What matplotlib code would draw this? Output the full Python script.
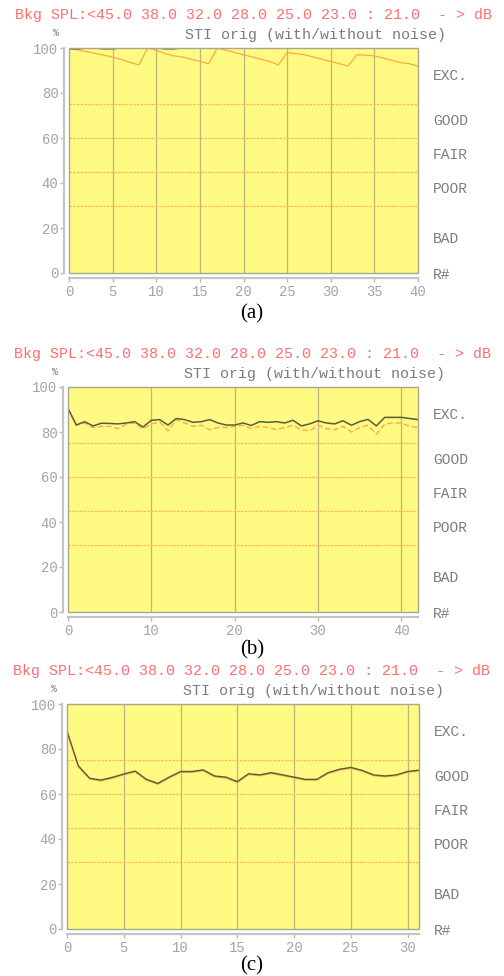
import matplotlib
matplotlib.use("Agg")
import matplotlib.pyplot as plt
from matplotlib.patches import Rectangle

# ---- data -------------------------------------------------------------
header_text = "Bkg SPL:<45.0 38.0 32.0 28.0 25.0 23.0 : 21.0  - > dB"
plot_title = "STI orig (with/without noise)"
grade_labels = ["EXC.", "GOOD", "FAIR", "POOR", "BAD", "R#"]
grade_label_levels = [87.5, 67.5, 52.5, 37.5, 15, -1]
grade_bounds = [75, 60, 45, 30]
y_ticks = [0, 20, 40, 60, 80, 100]

# (a)
a_x_ticks = [0, 5, 10, 15, 20, 25, 30, 35, 40]
a_xmax = 40
a_without = [99.6, 99.6, 100, 100, 99.6, 99.6, 100, 100, 100, 100,
             100, 99.6, 99.6, 100, 100, 100, 100, 100, 100, 100,
             100, 100, 100, 100, 100, 100, 100, 100, 100, 100,
             100, 100, 100, 100, 100, 100, 100, 100, 100, 100, 100]
a_with = [100, 99.2, 98.4, 97.6, 96.8, 96.0, 94.8, 93.6, 92.5, 100,
          99.0, 97.5, 96.5, 96.0, 95.0, 94.0, 93.0, 100, 99.0, 98.0,
          97.0, 96.0, 95.0, 94.0, 92.5, 98.0, 97.5, 97.0, 96.0, 95.0,
          94.0, 93.0, 92.0, 97.0, 96.8, 96.5, 95.5, 94.5, 93.5, 93.0, 92.0]

# (b)
b_x_ticks = [0, 10, 20, 30, 40]
b_xmax = 42
b_without = [90.5, 83.1, 84.6, 82.7, 83.9, 83.8, 83.6, 84.0, 84.6, 82.2,
             85.2, 85.5, 83.1, 86.0, 85.5, 84.3, 84.6, 85.5, 84.0, 83.1,
             83.1, 84.0, 82.9, 84.6, 84.3, 84.6, 84.0, 85.2, 82.7, 83.6,
             85.0, 84.0, 83.6, 85.0, 83.0, 84.6, 85.6, 82.7, 86.5, 86.5,
             86.5, 86.0, 85.5]
b_with = [90.5, 83.0, 84.0, 82.0, 82.5, 82.5, 81.5, 83.5, 84.0, 81.5,
          83.5, 84.5, 80.5, 85.5, 84.0, 82.5, 83.0, 81.0, 82.0, 82.0,
          82.5, 83.0, 81.5, 82.5, 82.0, 81.0, 82.0, 83.0, 81.0, 80.5,
          83.0, 81.5, 81.0, 82.5, 80.0, 82.0, 83.0, 79.0, 83.5, 84.0,
          84.0, 82.5, 82.0]

# (c)
c_x_ticks = [0, 5, 10, 15, 20, 25, 30]
c_xmax = 31
c_without = [88.0, 72.5, 67.0, 66.2, 67.4, 68.9, 70.2, 66.5, 64.7, 67.5,
             70.0, 70.0, 70.7, 68.0, 67.5, 65.5, 69.0, 68.5, 69.5, 68.5,
             67.5, 66.5, 66.5, 69.5, 71.0, 71.8, 70.5, 68.5, 68.0, 68.5,
             70.0, 70.6]
c_with = [87.6, 72.0, 66.6, 65.8, 67.0, 68.5, 69.8, 66.1, 64.3, 67.1,
          69.6, 69.6, 70.3, 67.6, 67.1, 65.1, 68.6, 68.1, 69.1, 68.1,
          67.1, 66.1, 66.1, 69.1, 70.6, 71.4, 70.1, 68.1, 67.6, 68.1,
          69.6, 70.2]

captions = ["(a)", "(b)", "(c)"]

# ---- style ------------------------------------------------------------
W, H = 504, 976
MONO = "Liberation Mono"
SERIF = "Liberation Serif"
FACE = "#fffa82"
VGRID = "#bdb680"
BOUND = "#ffb468"
DARK = "#5c5c3c"
ORANGE = "#ffa848"
TICK_GREY = "#a4a4a4"
TEXT_GREY = "#7c7c7c"
RED = "#ff6e6e"


def px_rect(left, top, right, bottom):
    return [left / W, 1 - bottom / H, (right - left) / W, (bottom - top) / H]


fig = plt.figure(figsize=(W / 100, H / 100), dpi=100)
fig.patch.set_facecolor("white")

panels = [
    dict(rect=px_rect(69, 48, 418, 273), xmax=a_xmax, xt=a_x_ticks,
         s1=a_without, s2=a_with, dashed=False, cap_y=314),
    dict(rect=px_rect(68, 387, 418, 612), xmax=b_xmax, xt=b_x_ticks,
         s1=b_without, s2=b_with, dashed=True, cap_y=650),
    dict(rect=px_rect(67, 704, 419, 929), xmax=c_xmax, xt=c_x_ticks,
         s1=c_without, s2=c_with, dashed=False, cap_y=966),
]

for p, cap in zip(panels, captions):
    ax = fig.add_axes(p["rect"])
    ax.set_facecolor(FACE)
    ax.set_xlim(0, p["xmax"])
    ax.set_ylim(0, 100)

    # vertical grid at the x ticks
    for xv in p["xt"][1:]:
        if xv < p["xmax"]:
            ax.axvline(xv, color=VGRID, lw=0.9, zorder=1)
    # grade boundaries
    for yb in grade_bounds:
        ax.axhline(yb, color=BOUND, lw=0.9, ls=(0, (2, 1)), zorder=1)

    xs1 = list(range(len(p["s1"])))
    xs2 = list(range(len(p["s2"])))
    if p["dashed"]:
        ax.plot(xs2, p["s2"], color=ORANGE, lw=1.0, ls=(0, (4, 2)), zorder=2)
        ax.plot(xs1, p["s1"], color=DARK, lw=1.1, zorder=3)
    else:
        ax.plot(xs2, p["s2"], color=ORANGE, lw=0.9, zorder=2)
        ax.plot(xs1, p["s1"], color=DARK, lw=1.0, zorder=3)

    # plot-area border
    ax.add_patch(Rectangle((0, 0), 1, 1, transform=ax.transAxes, fill=False,
                           ec="#a8a88c", lw=1.0, zorder=4, clip_on=False))

    for side in ("top", "right"):
        ax.spines[side].set_visible(False)
    for side in ("left", "bottom"):
        ax.spines[side].set_position(("outward", 3.6))
        ax.spines[side].set_color("#c4c4c4")
        ax.spines[side].set_linewidth(1.6)

    ax.set_xticks(p["xt"])
    ax.set_yticks(y_ticks)
    ax.tick_params(axis="both", colors="#b8b8b8", length=3, width=1,
                   labelcolor=TICK_GREY, labelsize=10, pad=1)
    ax.tick_params(axis="x", pad=2)
    for lab in ax.get_xticklabels() + ax.get_yticklabels():
        lab.set_fontfamily(MONO)

    # grade names on the right
    for txt, lv in zip(grade_labels, grade_label_levels):
        ax.annotate(txt, xy=(1, lv), xycoords=("axes fraction", "data"),
                    xytext=(15, 0), textcoords="offset pixels",
                    ha="left", va="center", fontsize=10.5,
                    family=MONO, color=TEXT_GREY, annotation_clip=False)

    # header lines
    ax.annotate(header_text, xy=(0, 1), xycoords="axes fraction",
                xytext=(-54, 33), textcoords="offset pixels",
                ha="left", va="center", fontsize=10.8, family=MONO,
                color=RED, annotation_clip=False)
    ax.annotate(plot_title, xy=(0, 1), xycoords="axes fraction",
                xytext=(116, 13), textcoords="offset pixels",
                ha="left", va="center", fontsize=10.8, family=MONO,
                color=TEXT_GREY, annotation_clip=False)
    ax.annotate("%", xy=(0, 1), xycoords="axes fraction",
                xytext=(-13, 15), textcoords="offset pixels",
                ha="center", va="center", fontsize=7, family=MONO,
                color=TEXT_GREY, annotation_clip=False)

    fig.text(0.5, 1 - p["cap_y"] / H, cap, ha="center", va="center",
             fontsize=15, family=SERIF, color="black")

fig.savefig("out.png", dpi=100, facecolor="white")
